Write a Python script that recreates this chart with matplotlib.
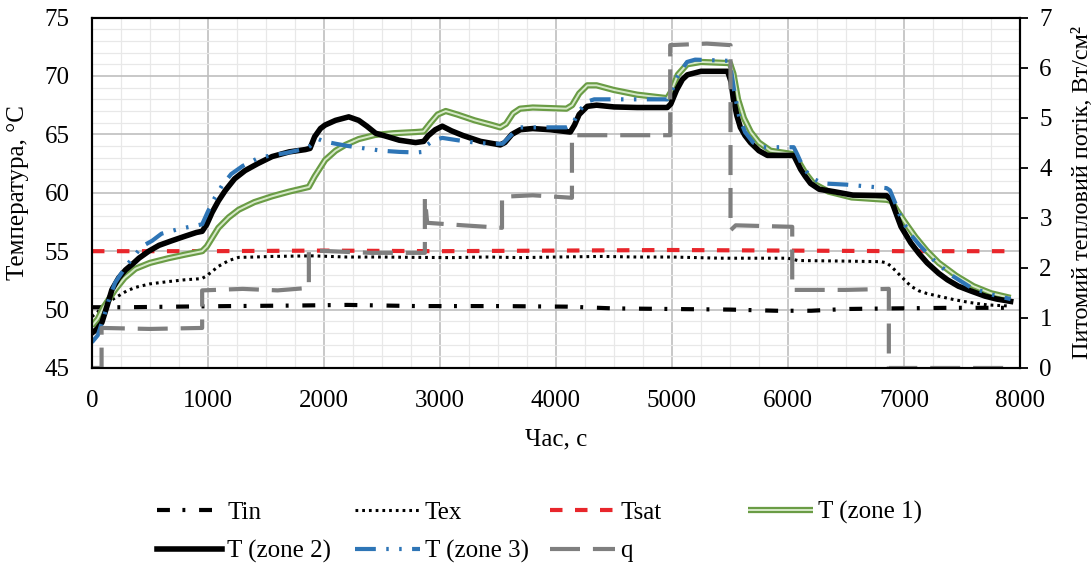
import matplotlib
matplotlib.use("Agg")
import matplotlib.pyplot as plt
from matplotlib.ticker import MultipleLocator

plt.rcParams['font.family'] = ['Liberation Serif', 'DejaVu Serif']

# --- data (time in s, T in degC, q in W/cm2) ---
t_z2 = [0, 40, 86, 130, 172, 230, 290, 350, 405, 490, 578, 690, 808, 900, 950, 990,
        1035, 1090, 1150, 1230, 1320, 1430, 1553, 1700, 1840, 1880, 1920, 1970, 2010,
        2100, 2214, 2300, 2370, 2445, 2550, 2650, 2790, 2860, 2900, 2960, 3020, 3100,
        3200, 3350, 3520, 3560, 3620, 3693, 3800, 3950, 4124, 4160, 4200, 4270, 4350,
        4500, 4700, 4960, 4990, 5040, 5090, 5133, 5250, 5480, 5510, 5530, 5560, 5590,
        5630, 5677, 5750, 5823, 6050, 6080, 6110, 6150, 6195, 6270, 6395, 6560, 6850,
        6890, 6930, 6975, 7060, 7130, 7200, 7300, 7375, 7470, 7575, 7700, 7800, 7920]
T_z2 = [48.0, 48.3, 48.9, 50.3, 51.7, 52.7, 53.4, 53.9, 54.4, 55.0, 55.5, 55.9, 56.3,
        56.6, 56.7, 57.3, 58.3, 59.3, 60.2, 61.2, 61.9, 62.5, 63.1, 63.5, 63.7, 63.8,
        64.8, 65.5, 65.8, 66.2, 66.5, 66.2, 65.7, 65.1, 64.8, 64.5, 64.3, 64.4, 64.9,
        65.4, 65.7, 65.3, 64.9, 64.4, 64.1, 64.3, 65.0, 65.4, 65.5, 65.4, 65.2, 65.8,
        66.7, 67.4, 67.5, 67.35, 67.3, 67.3, 67.6, 68.8, 69.7, 70.1, 70.4, 70.4, 69.5,
        68.0, 66.6, 65.6, 64.9, 64.3, 63.6, 63.2, 63.2, 62.6, 62.0, 61.4, 60.8, 60.3,
        60.1, 59.8, 59.75, 59.4, 58.3, 57.1, 55.7, 54.8, 54.0, 53.1, 52.55, 52.0, 51.6,
        51.15, 50.9, 50.7]

t_z3 = [0, 50, 100, 150, 200, 300, 430, 520, 600, 750, 900, 950, 1000, 1060, 1120,
        1200, 1300, 1440, 1550, 1670, 1850, 1880, 1950, 2000, 2100, 2210, 2350, 2500,
        2650, 2800, 2850, 2890, 2950, 3020, 3150, 3300, 3430, 3540, 3580, 3640, 3690,
        3900, 4090, 4140, 4200, 4270, 4330, 4600, 4960, 4990, 5050, 5130, 5200, 5480,
        5510, 5540, 5580, 5630, 5700, 5780, 6050, 6080, 6130, 6200, 6300, 6500, 6850,
        6880, 6930, 6975, 7060, 7145, 7250, 7400, 7575, 7750, 7920]
T_z3 = [47.2, 47.8, 49.3, 51.0, 52.3, 53.8, 55.4, 55.9, 56.5, 56.9, 57.2, 57.3, 58.4,
        59.6, 60.6, 61.6, 62.3, 63.0, 63.2, 63.4, 63.8, 64.0, 64.6, 64.4, 64.2, 64.0,
        63.8, 63.6, 63.5, 63.45, 63.5, 64.1, 64.5, 64.7, 64.5, 64.3, 64.2, 64.2, 64.6,
        65.2, 65.6, 65.6, 65.6, 65.8, 67.0, 67.8, 68.0, 68.0, 68.0, 68.5, 70.0, 71.2,
        71.4, 71.3, 70.5, 68.5, 66.5, 65.2, 64.3, 63.9, 63.9, 63.3, 62.2, 61.3, 60.8,
        60.7, 60.4, 60.2, 59.0, 57.8, 56.4, 55.4, 54.3, 53.0, 51.9, 51.3, 50.9]

t_z1 = [0, 50, 100, 200, 280, 375, 500, 660, 800, 950, 990, 1040, 1090, 1180, 1265,
        1400, 1553, 1700, 1870, 1920, 2010, 2100, 2185, 2300, 2440, 2600, 2790, 2860,
        2920, 2980, 3050, 3150, 3300, 3450, 3520, 3570, 3630, 3690, 3800, 3950, 4090,
        4140, 4200, 4270, 4350, 4500, 4700, 4960, 4990, 5050, 5130, 5250, 5500, 5530,
        5570, 5620, 5680, 5750, 5850, 6050, 6090, 6150, 6220, 6350, 6550, 6850, 6890,
        6940, 7000, 7100, 7200, 7300, 7450, 7600, 7750, 7920]
T_z1 = [48.6, 49.2, 50.2, 51.7, 52.7, 53.5, 54.0, 54.4, 54.7, 55.0, 55.4, 56.2, 57.0,
        57.9, 58.55, 59.2, 59.7, 60.1, 60.5, 61.4, 62.8, 63.6, 64.1, 64.6, 64.95, 65.1,
        65.2, 65.25, 66.0, 66.7, 67.0, 66.7, 66.2, 65.8, 65.6, 65.9, 66.8, 67.2, 67.3,
        67.25, 67.2, 67.5, 68.5, 69.2, 69.2, 68.8, 68.4, 68.1, 68.6, 70.1, 71.0, 71.2,
        71.1, 70.2, 68.0, 66.4, 65.2, 64.3, 63.6, 63.3, 62.7, 61.7, 60.8, 60.1, 59.6,
        59.4, 59.3, 58.5, 57.6, 56.2, 55.0, 54.0, 52.9, 52.0, 51.4, 51.0]

t_ex = [0, 50, 100, 200, 300, 375, 500, 660, 800, 947, 990, 1040, 1090, 1180, 1265,
        1400, 1553, 1898, 2200, 2500, 2790, 3100, 3400, 3700, 4000, 4400, 4700, 5000,
        5420, 6000, 6085, 6500, 6805, 6850, 6890, 6930, 6975, 7060, 7130, 7200, 7320,
        7432, 7570, 7720, 7920]
T_ex = [49.4, 49.8, 50.4, 51.0, 51.6, 51.9, 52.2, 52.4, 52.55, 52.65, 52.9, 53.3, 53.7,
        54.2, 54.47, 54.5, 54.55, 54.6, 54.5, 54.5, 54.47, 54.45, 54.5, 54.45, 54.5,
        54.55, 54.5, 54.5, 54.4, 54.4, 54.2, 54.15, 54.1, 54.0, 53.7, 53.3, 52.85, 52.0,
        51.6, 51.37, 51.1, 50.85, 50.6, 50.4, 50.3]

t_in = [0, 300, 700, 1200, 1800, 2200, 2800, 3500, 4100, 4500, 5000, 5500, 5900, 6200,
        6500, 6900, 7400, 7920]
T_in = [50.2, 50.2, 50.25, 50.3, 50.35, 50.4, 50.3, 50.3, 50.25, 50.1, 50.05, 50.0,
        49.9, 49.9, 50.05, 50.1, 50.15, 50.15]

t_sat = [0, 1000, 2000, 3000, 4000, 5000, 6000, 7000, 7950]
T_sat = [55.0, 55.0, 55.05, 55.0, 55.05, 55.1, 55.05, 55.0, 55.0]

t_q = [0, 83, 83, 500, 950, 950, 1300, 1600, 1870, 1870, 2400, 2870, 2870, 2890, 3200,
       3535, 3535, 3800, 4138, 4138, 4600, 4985, 4985, 5300, 5505, 5505, 5550, 6037,
       6037, 6500, 6870, 6870, 7950]
q = [0, 0, 0.8, 0.78, 0.8, 1.55, 1.58, 1.55, 1.6, 2.35, 2.3, 2.3, 3.4, 2.9, 2.85, 2.8,
     3.42, 3.45, 3.4, 4.65, 4.65, 4.65, 6.45, 6.48, 6.45, 2.75, 2.85, 2.82, 1.56, 1.56,
     1.58, 0, 0]

fig = plt.figure(figsize=(10.92, 5.67), dpi=100)
ax = fig.add_axes([0.0842, 0.351, 0.8498, 0.618])
ax2 = ax.twinx()

l_in, = ax.plot(t_in, T_in, color='black', lw=3, ls=(0, (3.1, 3.0, 0.7, 3.3)))
l_ex, = ax.plot(t_ex, T_ex, color='black', lw=2.2, ls=(0, (0.9, 1.3)))
l_sat, = ax.plot(t_sat, T_sat, color='#e8262b', lw=3, ls=(0, (3.0, 3.0)))
l_z1a, = ax.plot(t_z1, T_z1, color='#6a9c45', lw=4.5, solid_capstyle='butt')
l_z1b, = ax.plot(t_z1, T_z1, color='#d6e9c8', lw=1.4, solid_capstyle='butt')
l_z2, = ax.plot(t_z2, T_z2, color='black', lw=4)
l_z3, = ax.plot(t_z3, T_z3, color='#2e75b6', lw=3, ls=(0, (5, 2.5, 0.6, 2.5, 0.6, 2.5)))
l_q, = ax2.plot(t_q, q, color='#7f7f7f', lw=3, ls=(0, (7.2, 3.1)))

ax.set_xlim(0, 8000)
ax.set_ylim(45, 75)
ax2.set_ylim(0, 7)
ax.xaxis.set_major_locator(MultipleLocator(1000))
ax.xaxis.set_minor_locator(MultipleLocator(250))
ax.yaxis.set_major_locator(MultipleLocator(5))
ax.yaxis.set_minor_locator(MultipleLocator(1))
ax2.yaxis.set_major_locator(MultipleLocator(1))

ax.grid(which='major', color='#bfbfbf', lw=1.2)
ax.grid(which='minor', color='#e8e8e8', lw=0.9)
ax.set_axisbelow(True)

ax.tick_params(which='both', length=0, labelsize=18)
ax.tick_params(axis='x', pad=16)
ax.tick_params(axis='y', pad=16)
ax2.tick_params(axis='y', length=6, width=1.3, direction='out', labelsize=18, pad=8)

for a in (ax, ax2):
    for s in a.spines.values():
        s.set_color('black')
        s.set_linewidth(1.5)

ax.set_xlabel('Час, с', fontsize=18)
ax.xaxis.set_label_coords(0.5, -0.172)
ax.set_ylabel('Температура, °C', fontsize=18)
ax.yaxis.set_label_coords(-0.068, 0.5)
ax2.set_ylabel('Питомий тепловий потік, Вт/см²', fontsize=17.5, rotation=90)
ax2.yaxis.set_label_coords(1.056, 0.5)

columns = [
    ([l_in, l_z2], ['Tin', 'T (zone 2)'], 0.1438),
    ([l_ex, l_z3], ['Tex', 'T (zone 3)'], 0.325),
    ([l_sat, l_q], ['Tsat', 'q'], 0.5037),
    ([(l_z1a, l_z1b)], ['T (zone 1)'], 0.685),
]
for handles, labels, x in columns:
    leg = fig.legend(handles, labels, loc='upper left', bbox_to_anchor=(x, 0.116),
                     frameon=False, fontsize=18, handlelength=2.6, handletextpad=0.2,
                     labelspacing=0.65, borderpad=0, borderaxespad=0)

fig.savefig('out.png', dpi=100)
